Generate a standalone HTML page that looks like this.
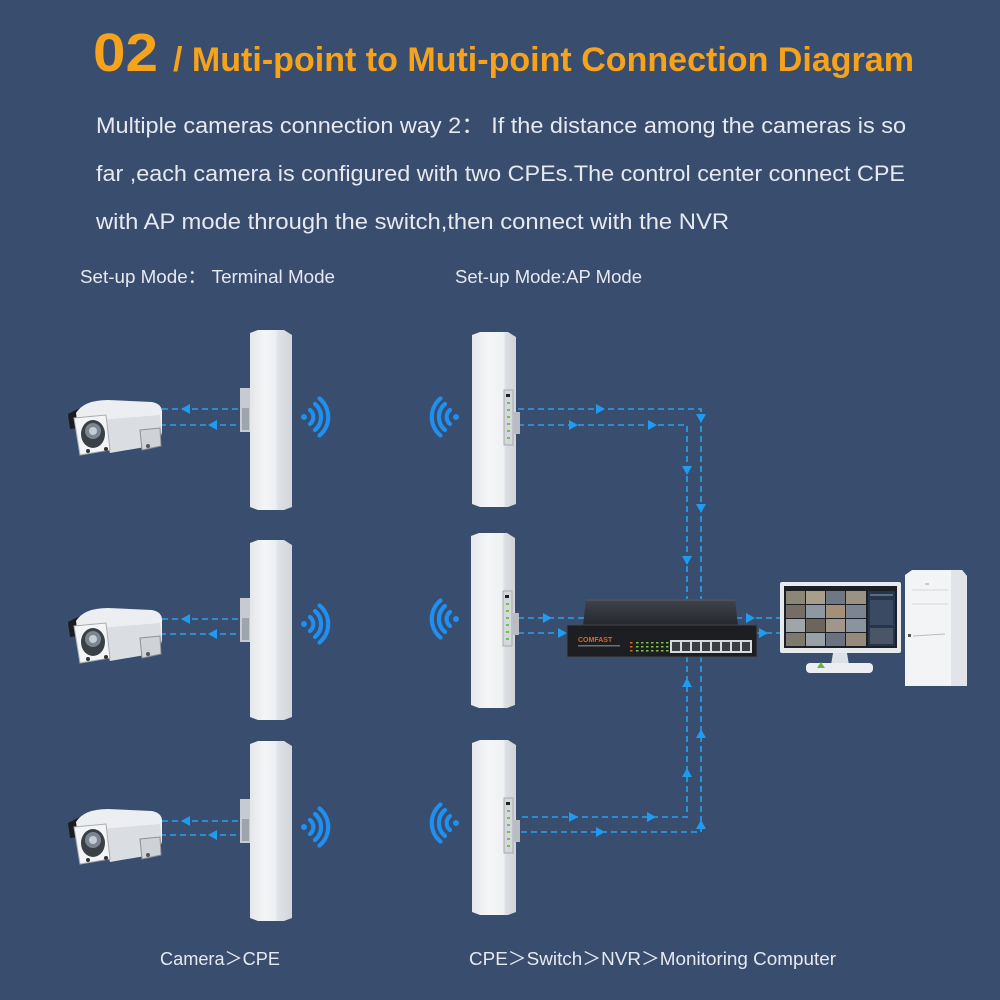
<!DOCTYPE html>
<html>
<head>
<meta charset="utf-8">
<style>
html,body{margin:0;padding:0;background:#394d6f;}
svg{display:block;}
.t{font-family:"Liberation Sans","Noto Sans CJK SC",sans-serif;}
</style>
</head>
<body>
<svg width="1000" height="1000" viewBox="0 0 1000 1000" xmlns="http://www.w3.org/2000/svg">
<defs>
  <linearGradient id="cpeL" x1="0" x2="1" y1="0" y2="0">
    <stop offset="0" stop-color="#e4e6ea"/>
    <stop offset="0.35" stop-color="#f4f5f7"/>
    <stop offset="0.62" stop-color="#eceef1"/>
    <stop offset="0.66" stop-color="#dfe2e6"/>
    <stop offset="1" stop-color="#d2d5da"/>
  </linearGradient>
  <linearGradient id="cpeR" x1="0" x2="1" y1="0" y2="0">
    <stop offset="0" stop-color="#e6e8eb"/>
    <stop offset="0.4" stop-color="#f5f6f8"/>
    <stop offset="0.72" stop-color="#eef0f2"/>
    <stop offset="0.76" stop-color="#dcdfe3"/>
    <stop offset="1" stop-color="#cfd2d7"/>
  </linearGradient>
  <linearGradient id="swTop" x1="0" x2="0" y1="0" y2="1">
    <stop offset="0" stop-color="#41454c"/>
    <stop offset="1" stop-color="#23262b"/>
  </linearGradient>
  <g id="cam">
    <path d="M0,14 L14,7 L17,27 L2,29 Z" fill="#1b1c1f"/>
    <path d="M8,13 Q16,0 40,0 L84,2 Q95,4 94,14 L94,32 L32,38 L10,28 Z" fill="#eceef1"/>
    <path d="M32,20 L92,15 L94,33 L89,45 L42,53 Z" fill="#dadde1"/>
    <path d="M6,18 L38,15 L42,50 L12,55 Z" fill="#f3f4f6" stroke="#a9adb3" stroke-width="1"/>
    <ellipse cx="25" cy="34" rx="12" ry="14" fill="#3b4047"/>
    <circle cx="25" cy="31" r="8" fill="#7c8693"/>
    <circle cx="25" cy="31" r="4" fill="#c6ccd4"/>
    <path d="M72,30 L92,28 L93,46 L74,50 Z" fill="#cfd2d6" stroke="#8b9096" stroke-width="1"/>
    <circle cx="20" cy="51" r="2" fill="#333"/>
    <circle cx="38" cy="49" r="2" fill="#333"/>
    <circle cx="80" cy="46" r="2" fill="#555"/>
  </g>
  <g id="wifiR" fill="none" stroke="#1f8ff0" stroke-width="4.2" stroke-linecap="round">
    <circle cx="0" cy="0" r="3" fill="#1f8ff0" stroke="none"/>
    <path d="M6,-7 A9,9 0 0 1 6,7"/>
    <path d="M11,-13 A17,17 0 0 1 11,13"/>
    <path d="M15.5,-18.5 A24,24 0 0 1 15.5,18.5"/>
  </g>
  <g id="cpeLeft">
    <path d="M2,3 L10,0 L36,0 L44,5 L44,177 L36,180 L10,180 L2,177 Z" fill="url(#cpeL)"/>
    <rect x="-8" y="58" width="10" height="44" fill="#c7cbd1"/>
    <rect x="-6" y="78" width="7" height="22" fill="#9ea4ab"/>
  </g>
  <g id="cpeRight">
    <path d="M2,3 L10,0 L38,0 L46,5 L46,172 L38,175 L10,175 L2,172 Z" fill="url(#cpeR)"/>
    <rect x="34" y="58" width="9" height="55" fill="#d4d7dc" stroke="#9aa0a8" stroke-width="0.8"/>
    <rect x="36" y="62" width="4" height="3" fill="#222"/>
    <g fill="#6fc24b">
      <rect x="37" y="70" width="3" height="2"/>
      <rect x="37" y="77" width="3" height="2"/>
      <rect x="37" y="84" width="3" height="2"/>
      <rect x="37" y="91" width="3" height="2"/>
      <rect x="37" y="98" width="3" height="2"/>
      <rect x="37" y="105" width="3" height="2"/>
    </g>
    <rect x="44" y="80" width="6" height="22" fill="#b9bdc3"/>
  </g>
</defs>

<!-- Title -->
<text class="t" x="93" y="71" font-size="54" font-weight="bold" fill="#f6a31b" textLength="65" lengthAdjust="spacingAndGlyphs">02</text>
<text class="t" x="173" y="71" font-size="34" font-weight="bold" fill="#f6a31b" textLength="741" lengthAdjust="spacingAndGlyphs">/ Muti-point to Muti-point Connection Diagram</text>

<!-- Description -->
<g class="t" font-size="22.5" fill="#e6e9ef">
  <text x="96" y="133" textLength="810" lengthAdjust="spacingAndGlyphs">Multiple cameras connection way 2：&#160;If the distance among the cameras is so</text>
  <text x="96" y="181" textLength="809" lengthAdjust="spacingAndGlyphs">far ,each camera is configured with two CPEs.The control center connect CPE</text>
  <text x="96" y="229" textLength="633" lengthAdjust="spacingAndGlyphs">with AP mode through the switch,then connect with the NVR</text>
</g>

<g class="t" font-size="18" fill="#e6e9ef">
  <text x="80" y="283" textLength="255" lengthAdjust="spacingAndGlyphs">Set-up Mode：&#160;Terminal Mode</text>
  <text x="455" y="283" textLength="187" lengthAdjust="spacingAndGlyphs">Set-up Mode:AP Mode</text>
  <text x="160" y="965" textLength="120" lengthAdjust="spacingAndGlyphs">Camera＞CPE</text>
  <text x="469" y="965" textLength="367" lengthAdjust="spacingAndGlyphs">CPE＞Switch＞NVR＞Monitoring Computer</text>
</g>

<!-- Dashed connectors -->
<g fill="none" stroke="#2aa2ee" stroke-width="1.6" stroke-dasharray="6,4">
  <line x1="152" y1="409" x2="246" y2="409"/>
  <line x1="160" y1="425" x2="246" y2="425"/>
  <line x1="152" y1="619" x2="246" y2="619"/>
  <line x1="160" y1="634" x2="246" y2="634"/>
  <line x1="152" y1="821" x2="246" y2="821"/>
  <line x1="160" y1="835" x2="246" y2="835"/>
  <polyline points="518,409 701,409 701,832 518,832"/>
  <polyline points="518,425 687,425 687,817 518,817"/>
  <line x1="518" y1="618" x2="585" y2="618"/>
  <line x1="518" y1="633" x2="568" y2="633"/>
  <line x1="736" y1="618" x2="782" y2="618"/>
  <line x1="756" y1="633" x2="782" y2="633"/>
</g>

<!-- Arrowheads -->
<g fill="#1f9cf0">
  <polygon points="190,404 181,409 190,414"/>
  <polygon points="217,420 208,425 217,430"/>
  <polygon points="190,614 181,619 190,624"/>
  <polygon points="217,629 208,634 217,639"/>
  <polygon points="190,816 181,821 190,826"/>
  <polygon points="217,830 208,835 217,840"/>
  <polygon points="596,404 605,409 596,414"/>
  <polygon points="569,420 578,425 569,430"/>
  <polygon points="648,420 657,425 648,430"/>
  <polygon points="569,812 578,817 569,822"/>
  <polygon points="647,812 656,817 647,822"/>
  <polygon points="596,827 605,832 596,837"/>
  <polygon points="543,613 552,618 543,623"/>
  <polygon points="558,628 567,633 558,638"/>
  <polygon points="746,613 755,618 746,623"/>
  <polygon points="759,628 768,633 759,638"/>
  <polygon points="696,414 701,423 706,414"/>
  <polygon points="682,466 687,475 692,466"/>
  <polygon points="696,504 701,513 706,504"/>
  <polygon points="682,556 687,565 692,556"/>
  <polygon points="682,687 687,678 692,687"/>
  <polygon points="682,777 687,768 692,777"/>
  <polygon points="696,738 701,729 706,738"/>
  <polygon points="696,829 701,820 706,829"/>
</g>

<!-- Cameras -->
<use href="#cam" x="68" y="400"/>
<use href="#cam" x="68" y="608"/>
<use href="#cam" x="68" y="809"/>

<!-- Left CPEs -->
<use href="#cpeLeft" x="248" y="330"/>
<use href="#cpeLeft" x="248" y="540"/>
<use href="#cpeLeft" x="248" y="741"/>

<!-- Right CPEs -->
<use href="#cpeRight" x="470" y="332"/>
<use href="#cpeRight" x="469" y="533"/>
<use href="#cpeRight" x="470" y="740"/>

<!-- Wifi icons -->
<use href="#wifiR" x="304" y="417"/>
<use href="#wifiR" x="304" y="624"/>
<use href="#wifiR" x="304" y="827"/>
<use href="#wifiR" transform="translate(456,417) scale(-1,1)"/>
<use href="#wifiR" transform="translate(456,619) scale(-1,1)"/>
<use href="#wifiR" transform="translate(456,823) scale(-1,1)"/>

<!-- Switch -->
<g>
  <path d="M586,599 L735,599 L738,626 L583,626 Z" fill="url(#swTop)"/>
  <line x1="586" y1="600" x2="735" y2="600" stroke="#5a5f67" stroke-width="1"/>
  <rect x="567" y="625" width="190" height="32" fill="#1d1e21" stroke="#44474d" stroke-width="1"/>
  <text x="578" y="642" font-family="Liberation Sans, sans-serif" font-size="7" font-weight="bold" fill="#e0661e">COMFAST</text>
  <rect x="578" y="645" width="42" height="1.5" fill="#6d7075"/>
  <g fill="#7bc34a">
    <rect x="630" y="642" width="2.5" height="1.5" fill="#e0661e"/>
    <rect x="630" y="646" width="2.5" height="1.5" fill="#e0661e"/>
    <rect x="630" y="650" width="2.5" height="1.5" fill="#e0661e"/>
    <rect x="636" y="642" width="2.5" height="1.5"/><rect x="636" y="646" width="2.5" height="1.5"/><rect x="636" y="650" width="2.5" height="1.5"/>
    <rect x="641" y="642" width="2.5" height="1.5"/><rect x="641" y="646" width="2.5" height="1.5"/><rect x="641" y="650" width="2.5" height="1.5"/>
    <rect x="646" y="642" width="2.5" height="1.5"/><rect x="646" y="646" width="2.5" height="1.5"/><rect x="646" y="650" width="2.5" height="1.5"/>
    <rect x="651" y="642" width="2.5" height="1.5"/><rect x="651" y="646" width="2.5" height="1.5"/><rect x="651" y="650" width="2.5" height="1.5"/>
    <rect x="656" y="642" width="2.5" height="1.5"/><rect x="656" y="646" width="2.5" height="1.5"/><rect x="656" y="650" width="2.5" height="1.5"/>
    <rect x="661" y="642" width="2.5" height="1.5"/><rect x="661" y="646" width="2.5" height="1.5"/><rect x="661" y="650" width="2.5" height="1.5"/>
    <rect x="666" y="642" width="2.5" height="1.5"/><rect x="666" y="646" width="2.5" height="1.5"/><rect x="666" y="650" width="2.5" height="1.5"/>
  </g>
  <rect x="670" y="640" width="82" height="13" fill="#d8dadd"/>
  <g fill="#3a3d42">
    <rect x="672" y="642" width="8" height="9"/><rect x="682" y="642" width="8" height="9"/>
    <rect x="692" y="642" width="8" height="9"/><rect x="702" y="642" width="8" height="9"/>
    <rect x="712" y="642" width="8" height="9"/><rect x="722" y="642" width="8" height="9"/>
    <rect x="732" y="642" width="8" height="9"/><rect x="742" y="642" width="8" height="9"/>
  </g>
</g>

<!-- Monitor -->
<g>
  <rect x="780" y="582" width="121" height="71" rx="2" fill="#e8ebee"/>
  <rect x="784" y="586" width="113" height="62" fill="#1c2026"/>
  <g>
    <rect x="786" y="591" width="19" height="13" fill="#8c8678"/>
    <rect x="806" y="591" width="19" height="13" fill="#a79e8c"/>
    <rect x="826" y="591" width="19" height="13" fill="#6f7782"/>
    <rect x="846" y="591" width="20" height="13" fill="#9a9384"/>
    <rect x="786" y="605" width="19" height="13" fill="#766e66"/>
    <rect x="806" y="605" width="19" height="13" fill="#8f98a1"/>
    <rect x="826" y="605" width="19" height="13" fill="#a48f78"/>
    <rect x="846" y="605" width="20" height="13" fill="#7b8592"/>
    <rect x="786" y="619" width="19" height="13" fill="#9fa5a8"/>
    <rect x="806" y="619" width="19" height="13" fill="#6d655c"/>
    <rect x="826" y="619" width="19" height="13" fill="#a0978a"/>
    <rect x="846" y="619" width="20" height="13" fill="#8a94a0"/>
    <rect x="786" y="633" width="19" height="13" fill="#7f786f"/>
    <rect x="806" y="633" width="19" height="13" fill="#99a0a6"/>
    <rect x="826" y="633" width="19" height="13" fill="#6b7380"/>
    <rect x="846" y="633" width="20" height="13" fill="#958a7c"/>
    <rect x="868" y="591" width="27" height="55" fill="#27354a"/>
    <rect x="870" y="594" width="23" height="2" fill="#5b6b82"/>
    <rect x="870" y="600" width="23" height="25" fill="#3a4a63"/>
    <rect x="870" y="628" width="23" height="16" fill="#4a5566"/>
  </g>
  <path d="M833,653 L847,653 L849,665 L831,665 Z" fill="#dde0e4"/>
  <rect x="806" y="663" width="67" height="10" rx="4" fill="#eceef1"/>
  <path d="M817,668 L821,662 L825,668 Z" fill="#6cb33e"/>
</g>

<!-- PC tower -->
<g>
  <path d="M905,575 L912,570 L962,570 L967,576 L967,686 L905,686 Z" fill="#f3f4f6"/>
  <path d="M951,570 L962,570 L967,576 L967,686 L951,686 Z" fill="#e1e4e8"/>
  <line x1="912" y1="590" x2="948" y2="590" stroke="#d6d9dd" stroke-width="1"/>
  <line x1="912" y1="604" x2="948" y2="604" stroke="#d6d9dd" stroke-width="1"/>
  <rect x="925" y="583" width="4" height="2" fill="#c9ccd1"/>
  <rect x="908" y="634" width="3" height="3" fill="#555"/>
  <line x1="913" y1="636" x2="945" y2="634" stroke="#b8bcc2" stroke-width="1"/>
</g>
</svg>
</body>
</html>
